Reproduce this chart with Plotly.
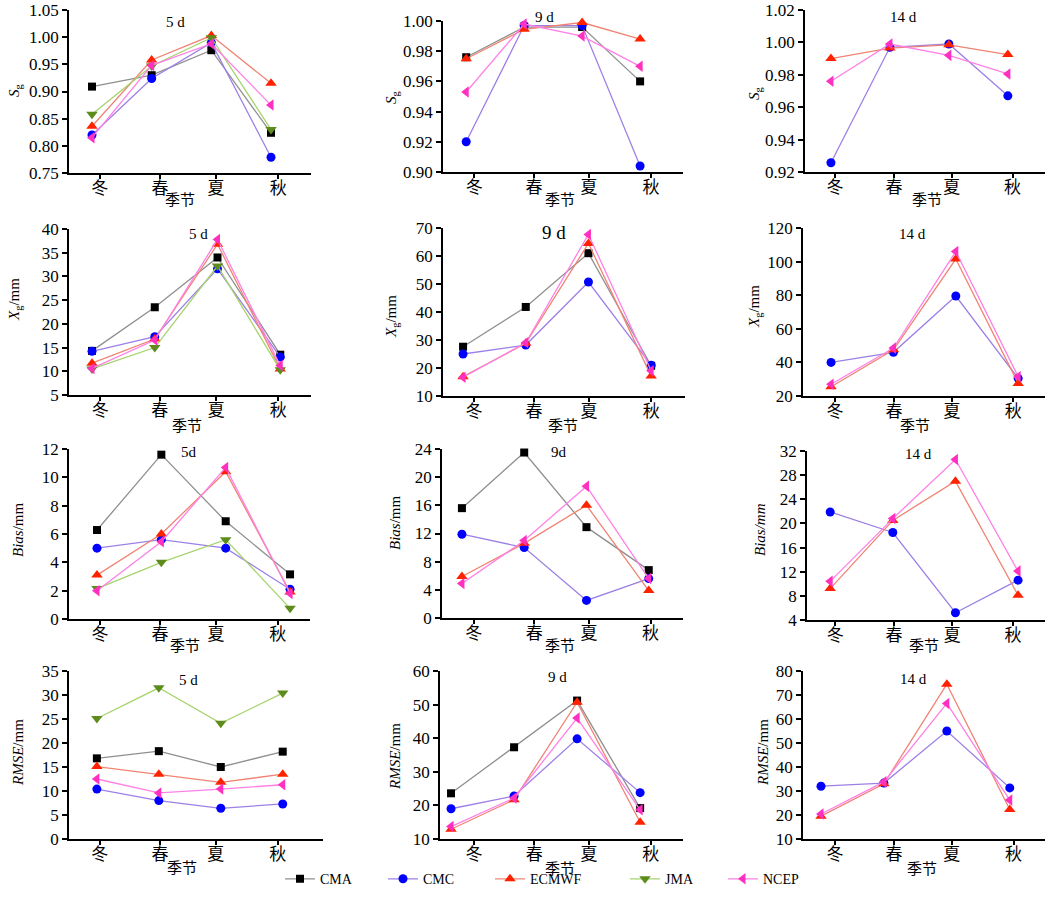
import plotly.graph_objects as go

# ---------------- data ----------------
seasons = ["冬", "春", "夏", "秋"]
models = ["CMA", "CMC", "ECMWF", "JMA", "NCEP"]

sg_5d = {"CMA": [0.909, 0.930, 0.976, 0.824], "CMC": [0.820, 0.924, 0.990, 0.779],
         "ECMWF": [0.836, 0.958, 1.003, 0.915], "JMA": [0.858, 0.947, 0.999, 0.830],
         "NCEP": [0.815, 0.948, 0.988, 0.875]}
sg_9d = {"CMA": [0.976, 0.996, 0.996, 0.960], "CMC": [0.920, 0.997, 0.997, 0.904],
         "ECMWF": [0.975, 0.9945, 0.999, 0.988], "NCEP": [0.953, 0.998, 0.990, 0.970]}
sg_14d = {"CMC": [0.9257, 0.997, 0.999, 0.967], "ECMWF": [0.990, 0.9965, 0.9985, 0.9925],
          "NCEP": [0.976, 0.999, 0.992, 0.9805]}

xg_5d = {"CMA": [14.3, 23.5, 34.0, 13.5], "CMC": [14.2, 17.3, 31.6, 13.0],
         "ECMWF": [11.7, 16.8, 36.8, 10.5], "JMA": [10.5, 15.0, 32.2, 10.3],
         "NCEP": [10.6, 16.6, 37.8, 11.2]}
xg_9d = {"CMA": [27.6, 41.8, 61.0, 20.8], "CMC": [25.0, 28.2, 50.7, 21.0],
         "ECMWF": [16.9, 28.8, 64.5, 17.1], "NCEP": [16.7, 29.0, 67.7, 19.0]}
xg_14d = {"CMC": [40.0, 46.0, 79.5, 30.5], "ECMWF": [25.5, 47.5, 101.5, 27.5],
          "NCEP": [27.0, 48.5, 106.0, 31.5]}

bias_5d = {"CMA": [6.28, 11.6, 6.9, 3.15], "CMC": [5.0, 5.6, 5.0, 2.1],
           "ECMWF": [3.1, 6.0, 10.4, 1.9], "JMA": [2.15, 4.0, 5.6, 0.75],
           "NCEP": [2.0, 5.45, 10.7, 1.8]}
bias_9d = {"CMA": [15.6, 23.5, 12.9, 6.8], "CMC": [11.9, 10.0, 2.5, 5.6],
           "ECMWF": [5.9, 10.6, 16.0, 3.9], "NCEP": [4.9, 11.0, 18.7, 5.6]}
bias_14d = {"CMC": [21.9, 18.5, 5.2, 10.6], "ECMWF": [9.2, 20.5, 27.0, 8.1],
            "NCEP": [10.4, 20.8, 30.6, 12.1]}

rmse_5d = {"CMA": [16.8, 18.3, 15.0, 18.2], "CMC": [10.4, 8.0, 6.4, 7.3],
           "ECMWF": [15.1, 13.5, 11.8, 13.5], "JMA": [25.1, 31.5, 24.1, 30.4],
           "NCEP": [12.5, 9.6, 10.4, 11.3]}
rmse_9d = {"CMA": [23.6, 37.3, 51.2, 19.2], "CMC": [19.0, 22.8, 39.8, 23.8],
           "ECMWF": [12.9, 21.7, 50.7, 15.0], "NCEP": [13.7, 22.2, 46.0, 18.7]}
rmse_14d = {"CMC": [32.0, 33.3, 55.0, 31.3], "ECMWF": [19.5, 33.0, 74.5, 22.3],
            "NCEP": [20.4, 33.8, 66.5, 26.2]}

# ---------------- styles ----------------
W, H = 1045, 897
SERIF = "Liberation Serif, Noto Sans CJK SC"

styles = {
    "CMA": dict(line="#8f8f8f", marker="#000000", symbol="square", size=8),
    "CMC": dict(line="#9d80e6", marker="#0000ff", symbol="circle", size=9),
    "ECMWF": dict(line="#f08474", marker="#ff2200", symbol="triangle-up", size=10),
    "JMA": dict(line="#a6d36c", marker="#5e8c1c", symbol="triangle-down", size=10),
    "NCEP": dict(line="#ff80e6", marker="#ff30c0", symbol="triangle-left", size=10),
}
# legend entry positions (left edge, pixels)
legend_x = {"CMA": 280, "CMC": 383, "ECMWF": 490, "JMA": 625, "NCEP": 723}
legend_names = {"CMA": "legend", "CMC": "legend2", "ECMWF": "legend3",
                "JMA": "legend4", "NCEP": "legend5"}

YT_SG = "<i>S</i><sub>g</sub>"
YT_XG = "<i>X</i><sub>g</sub>/mm"
YT_B = "<i>Bias</i>/mm"
YT_B2 = "<i>Bias/mm</i>"
YT_R = "<i>RMSE</i>/mm"

panels = [
    dict(d=sg_5d, yr=[0.75, 1.05], dt=0.05, fmt=".2f", yt=YT_SG, t="5 d",
         px=(69, 311), py=(10, 173), xr=(-0.385, 3.67), tv=[0.13, 1.14, 2.08, 3.12],
         tpos=(175, 22), ypos=(15, 90), xpos=(180, 200), tsize=15),
    dict(d=sg_9d, yr=[0.90, 1.00], dt=0.02, fmt=".2f", yt=YT_SG, t="9 d",
         px=(443, 683), py=(21, 172), xr=(-0.40, 3.74), tv=[0.14, 1.17, 2.12, 3.19],
         tpos=(544, 17), ypos=(392, 97), xpos=(560, 200), tsize=15),
    dict(d=sg_14d, yr=[0.92, 1.02], dt=0.02, fmt=".2f", yt=YT_SG, t="14 d",
         px=(805, 1045), py=(10, 172), xr=(-0.44, 3.63), tv=[0.07, 1.07, 2.05, 3.08],
         tpos=(903, 17), ypos=(755, 93), xpos=(927, 200), tsize=15),

    dict(d=xg_5d, yr=[5, 40], dt=5, fmt="d", yt=YT_XG, t="5 d",
         px=(69, 311), py=(229, 395), xr=(-0.367, 3.49), tv=[0.13, 1.08, 1.98, 2.97],
         tpos=(198, 234), ypos=(15, 300), xpos=(187, 426), tsize=15),
    dict(d=xg_9d, yr=[10, 70], dt=10, fmt="d", yt=YT_XG, t="9 d",
         px=(443, 685), py=(228, 396), xr=(-0.32, 3.54), tv=[0.175, 1.13, 2.01, 3.0],
         tpos=(554, 233), ypos=(392, 317), xpos=(563, 426), tsize=19),
    dict(d=xg_14d, yr=[20, 120], dt=20, fmt="d", yt=YT_XG, t="14 d",
         px=(803, 1045), py=(228, 396), xr=(-0.45, 3.43), tv=[0.064, 1.01, 1.94, 2.92],
         tpos=(912, 234), ypos=(755, 307), xpos=(915, 426), tsize=15),

    dict(d=bias_5d, yr=[0, 12], dt=2, fmt="d", yt=YT_B, t="5d",
         px=(69, 310), py=(449, 619), xr=(-0.435, 3.31), tv=[0.047, 0.98, 1.85, 2.81],
         tpos=(189, 452), ypos=(18, 530), xpos=(185, 646), tsize=15),
    dict(d=bias_9d, yr=[0, 24], dt=4, fmt="d", yt=YT_B, t="9d",
         px=(442, 683), py=(449, 618), xr=(-0.32, 3.55), tv=[0.19, 1.16, 2.04, 3.03],
         tpos=(559, 452), ypos=(395, 523), xpos=(560, 646), tsize=15),
    dict(d=bias_14d, yr=[4, 32], dt=4, fmt="d", yt=YT_B2, t="14 d",
         px=(807, 1045), py=(451, 620), xr=(-0.37, 3.43), tv=[0.08, 1.02, 1.95, 2.92],
         tpos=(918, 454), ypos=(760, 530), xpos=(924, 646), tsize=15),

    dict(d=rmse_5d, yr=[0, 35], dt=5, fmt="d", yt=YT_R, t="5 d",
         px=(69, 323), py=(671, 839), xr=(-0.45, 3.65), tv=[0.048, 1.02, 1.92, 2.92],
         tpos=(188, 680), ypos=(18, 753), xpos=(182, 868), tsize=15),
    dict(d=rmse_9d, yr=[10, 60], dt=10, fmt="d", yt=YT_R, t="9 d",
         px=(440, 683), py=(671, 839), xr=(-0.175, 3.68), tv=[0.365, 1.32, 2.19, 3.17],
         tpos=(557, 677), ypos=(395, 757), xpos=(560, 869), tsize=15),
    dict(d=rmse_14d, yr=[10, 80], dt=10, fmt="d", yt=YT_R, t="14 d",
         px=(803, 1045), py=(671, 839), xr=(-0.286, 3.56), tv=[0.222, 1.16, 2.08, 3.06],
         tpos=(913, 679), ypos=(763, 753), xpos=(922, 869), tsize=15),
]

fig = go.Figure()
annotations = []
layout_axes = {}

for i, p in enumerate(panels):
    n = i + 1
    xa = "x" if n == 1 else f"x{n}"
    ya = "y" if n == 1 else f"y{n}"
    xkey = "xaxis" if n == 1 else f"xaxis{n}"
    ykey = "yaxis" if n == 1 else f"yaxis{n}"
    for m in models:
        if m not in p["d"]:
            continue
        s = styles[m]
        fig.add_trace(go.Scatter(
            x=list(range(len(seasons))), y=p["d"][m], xaxis=xa, yaxis=ya,
            mode="lines+markers", name=m, legendgroup=m, showlegend=(n == 1),
            legend=legend_names[m],
            line=dict(color=s["line"], width=1.3),
            marker=dict(color=s["marker"], symbol=s["symbol"], size=s["size"],
                        line=dict(width=0)),
            cliponaxis=False,
        ))
    x0, x1 = p["px"]
    y0, y1 = p["py"]
    lo, hi = p["yr"]
    nticks = int(round((hi - lo) / p["dt"]))
    yticks = [round(lo + k * p["dt"], 4) for k in range(nticks + 1)]
    ytext = [f"{v:.2f}" if p["fmt"] == ".2f" else f"{v:g}" for v in yticks]
    layout_axes[xkey] = dict(
        domain=[x0 / W, x1 / W], anchor=ya, range=list(p["xr"]), automargin=False,
        tickmode="array", tickvals=p["tv"], ticktext=seasons, ticklabeloverflow="allow",
        showline=True, linecolor="black", linewidth=1.5, ticks="outside",
        ticklen=4, tickwidth=1.5, tickcolor="black", showgrid=False, zeroline=False,
        ticklabelstandoff=-5,
        tickfont=dict(family=SERIF, size=17, color="black"),
    )
    layout_axes[ykey] = dict(
        domain=[1 - y1 / H, 1 - y0 / H], anchor=xa,
        range=[lo - (hi - lo) * 1e-6, hi + (hi - lo) * 1e-6], automargin=False,
        tickmode="array", tickvals=yticks, ticktext=ytext, ticklabeloverflow="allow",
        showline=True, linecolor="black", linewidth=1.5, ticks="outside",
        ticklen=5, tickwidth=1.5, tickcolor="black", showgrid=False, zeroline=False,
        tickfont=dict(family=SERIF, size=17, color="black"),
    )
    tx, ty = p["tpos"]
    annotations.append(dict(text=p["t"], x=tx / W, y=1 - ty / H, xref="paper", yref="paper",
                            showarrow=False, xanchor="center", yanchor="middle",
                            font=dict(family=SERIF, size=p["tsize"], color="black")))
    ax_, ay_ = p["ypos"]
    annotations.append(dict(text=p["yt"], x=ax_ / W, y=1 - ay_ / H, xref="paper", yref="paper",
                            showarrow=False, xanchor="center", yanchor="middle", textangle=-90,
                            font=dict(family=SERIF, size=15, color="black")))
    lx, ly = p["xpos"]
    annotations.append(dict(text="季节", x=lx / W, y=1 - ly / H, xref="paper", yref="paper",
                            showarrow=False, xanchor="center", yanchor="middle",
                            font=dict(family=SERIF, size=15, color="black")))

legends = {}
for m in models:
    legends[legend_names[m]] = dict(
        orientation="h", x=legend_x[m] / W, xanchor="left", y=0.002, yanchor="bottom",
        font=dict(family=SERIF, size=14, color="black"), bgcolor="rgba(0,0,0,0)",
        itemwidth=30)

fig.update_layout(
    width=W, height=H, autosize=False,
    margin=dict(l=0, r=0, t=0, b=0, autoexpand=False),
    paper_bgcolor="white", plot_bgcolor="white",
    annotations=annotations,
    showlegend=True,
    **legends,
    **layout_axes,
)

fig.write_html("out.html")
